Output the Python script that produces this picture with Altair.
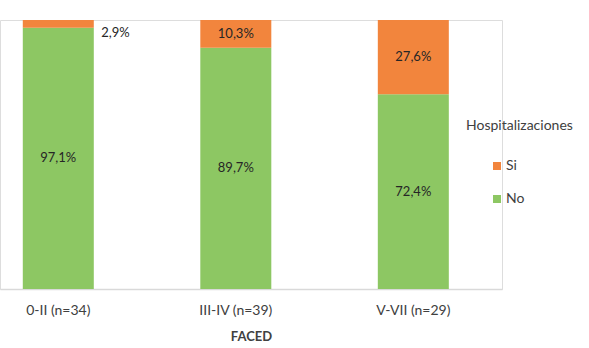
import altair as alt
import pandas as pd

categories = ["0-II (n=34)", "III-IV (n=39)", "V-VII (n=29)"]
si_values = [2.9, 10.3, 27.6]
no_values = [97.1, 89.7, 72.4]
series = ["Si", "No"]
colors = ["#F2853D", "#8DC763"]

rows = []
for c, s, n in zip(categories, si_values, no_values):
    rows.append({"cat": c, "hosp": "No", "pct": n, "ord": 0, "y0": 0.0, "y1": n})
    rows.append({"cat": c, "hosp": "Si", "pct": s, "ord": 1, "y0": n, "y1": n + s})
df = pd.DataFrame(rows)
df["mid"] = (df["y0"] + df["y1"]) / 2
df["label"] = df["pct"].map(lambda v: f"{v:.1f}%".replace(".", ","))

FONT = "Lato"

x_enc = alt.X(
    "cat:N",
    sort=categories,
    scale=alt.Scale(paddingInner=0.6, paddingOuter=0.214, align=0.3),
    axis=alt.Axis(
        title="FACED", labelAngle=0, ticks=False, domainColor="#d9d9d9",
        domainWidth=1.5, labelPadding=14, titlePadding=13, titleFontSize=13,
        titleFontWeight="bold", labelFontSize=14, labelColor="#404040",
        titleColor="#404040", labelFont=FONT, titleFont=FONT,
    ),
)
y_scale = alt.Scale(domain=[0, 100])

base = alt.Chart(df)

bars = base.mark_bar().encode(
    x=x_enc,
    y=alt.Y("pct:Q", stack="zero", scale=y_scale, axis=None),
    order=alt.Order("ord:Q"),
    color=alt.Color(
        "hosp:N",
        scale=alt.Scale(domain=series, range=colors),
        legend=alt.Legend(
            orient="none", legendX=466, legendY=99, title="Hospitalizaciones",
            titleFontSize=14, titleFontWeight="normal", titleColor="#404040",
            titleFont=FONT, labelFont=FONT, labelFontSize=14, labelColor="#404040",
            symbolType="square", symbolSize=64, symbolOffset=24, rowPadding=19,
            titlePadding=26, labelOffset=2, symbolStrokeWidth=0,
        ),
    ),
)

inside = base.transform_filter("datum.pct >= 5").mark_text(
    font=FONT, fontSize=13, color="#262626"
).encode(
    x=alt.X("cat:N", sort=categories),
    y=alt.Y("mid:Q", scale=y_scale),
    text="label:N",
)

outside = base.transform_filter("datum.pct < 5").mark_text(
    font=FONT, fontSize=13, color="#262626", align="left", dx=43, dy=9
).encode(
    x=alt.X("cat:N", sort=categories),
    y=alt.Y("mid:Q", scale=y_scale),
    text="label:N",
)

chart = (
    alt.layer(bars, inside, outside)
    .properties(
        width=502, height=269,
        autosize=alt.AutoSizeParams(type="none"),
        padding={"left": 0, "top": 20, "right": 87, "bottom": 59},
    )
    .configure_view(stroke=None)
    .configure(background="white")
)

chart.save("out.html", embed_options={"renderer": "svg", "actions": False})
